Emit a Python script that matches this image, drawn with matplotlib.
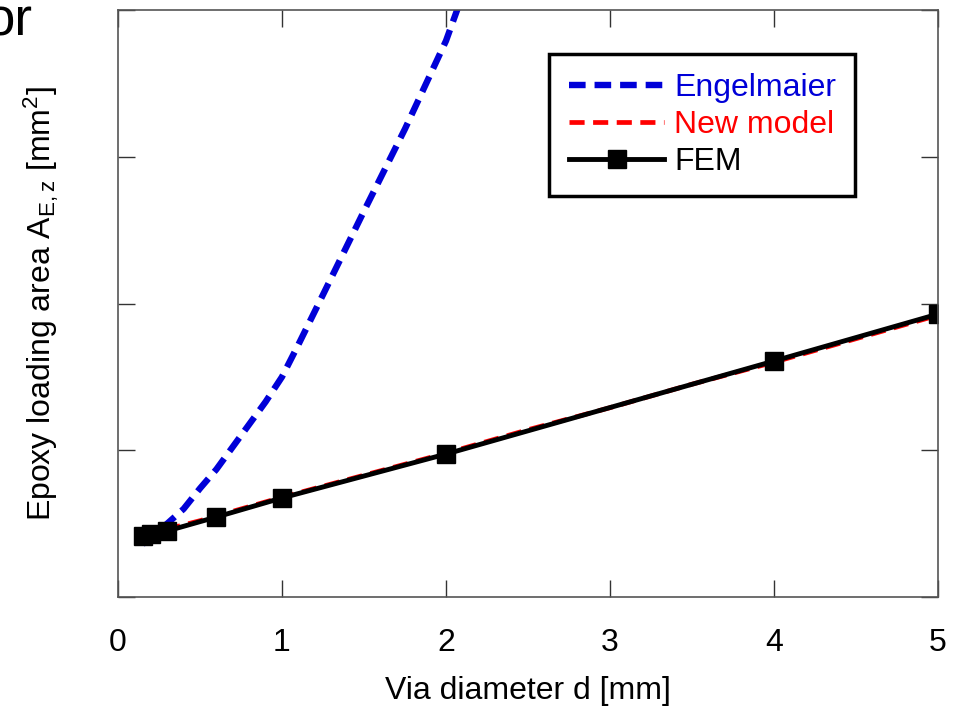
import matplotlib
matplotlib.use('Agg')
import matplotlib.pyplot as plt

plt.rcParams['font.family'] = ['Liberation Sans', 'DejaVu Sans']
plt.rcParams['mathtext.fontset'] = 'custom'
plt.rcParams['mathtext.rm'] = 'Liberation Sans'
plt.rcParams['mathtext.it'] = 'Liberation Sans'

# data
d_engel = [0.15, 0.2, 0.3, 0.4, 0.5, 0.6, 0.75, 0.9, 1.0, 1.1, 1.25, 1.5, 1.75, 2.0, 2.1]
a_engel = [0.36, 0.41, 0.50, 0.60, 0.74, 0.87, 1.10, 1.33, 1.50, 1.72, 2.06, 2.63, 3.19, 3.79, 4.1]

d_new = [0.15, 0.5, 1.0, 1.5, 2.0, 2.5, 3.0, 3.5, 4.0, 4.5, 5.0]
a_new = [0.42, 0.52, 0.68, 0.83, 0.98, 1.14, 1.29, 1.45, 1.60, 1.76, 1.92]

d_fem = [0.15, 0.2, 0.3, 0.6, 1.0, 2.0, 4.0, 5.0]
a_fem = [0.416, 0.429, 0.450, 0.545, 0.675, 0.974, 1.608, 1.928]

xticks = [0, 1, 2, 3, 4, 5]
yticks = [0, 1, 2, 3, 4]

fig = plt.figure(figsize=(9.6, 7.06), dpi=100)
ax = fig.add_axes([0.1229, 0.1544, 0.8542, 0.8314])

ax.plot(d_engel, a_engel, color='#0000d8', linestyle=(0, (2.6, 1.4)), linewidth=4.6,
        label='Engelmaier')
ax.plot(d_new, a_new, color='#ff0000', linestyle=(0, (3.2, 1.8)), linewidth=3.4,
        label='New model')
ax.plot(d_fem, a_fem, color='black', linestyle='-', linewidth=3.5, marker='s',
        markersize=12.5, label='FEM')

ax.set_xlim(0, 5)
ax.set_ylim(0, 4)
ax.set_xticks(xticks)
ax.set_yticks(yticks)
ax.set_yticklabels([])
ax.tick_params(direction='in', length=12, width=1, colors='#333333',
               top=True, right=True, labelsize=23, pad=22, labelcolor='black')
for s in ax.spines.values():
    s.set_color('#555555')
    s.set_linewidth(1.2)

ax.set_xlabel('Via diameter d [mm]', fontsize=23, labelpad=13)
ax.set_ylabel(r'Epoxy loading area A$_{\mathrm{E,z}}$ [mm$^{\mathrm{2}}$]', fontsize=23,
              labelpad=19)

leg = ax.legend(loc='upper right', bbox_to_anchor=(0.899, 0.925), borderaxespad=0,
                fontsize=23, handlelength=3.0, handletextpad=0.3, labelspacing=0.22,
                borderpad=0.6, fancybox=False, framealpha=1)
leg.get_frame().set_edgecolor('black')
leg.get_frame().set_linewidth(2.5)
for txt, c in zip(leg.get_texts(), ['#0000d8', '#ff0000', 'black']):
    txt.set_color(c)

# clipped title fragment at the top-left corner
fig.text(33 / 960, 1 - 36 / 706, 'or', fontsize=38, ha='right', va='baseline')

fig.savefig('out.png', dpi=100)
